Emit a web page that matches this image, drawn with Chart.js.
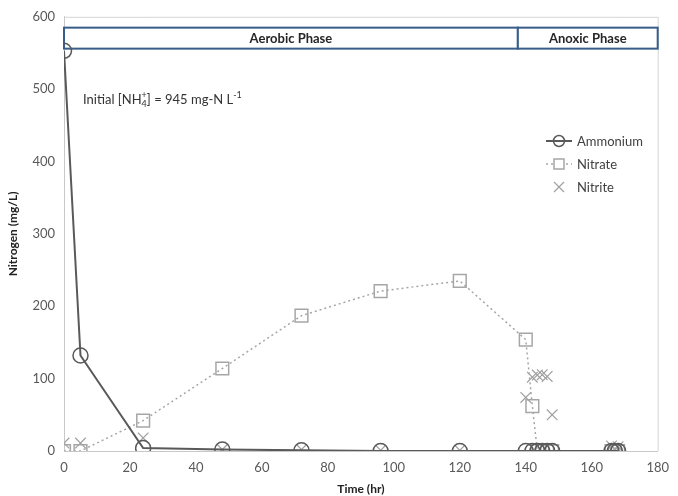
<!DOCTYPE html>
<html>
<head>
<meta charset="utf-8">
<script src="https://cdn.jsdelivr.net/npm/chart.js@4"></script>
<style>
  html, body { margin: 0; padding: 0; background: #fff; }
  #wrap { width: 678px; height: 496px; }
</style>
</head>
<body>
<div id="wrap"><canvas id="nChart" width="678" height="496"></canvas></div>
<script>
// sampling times (hr) and measured nitrogen species (mg-N/L)
const timeHr   = [0, 5, 24, 48, 72, 96, 120, 140, 142, 143.5, 145, 146.5, 148, 166, 167, 168];
const ammonium = [553, 132, 4, 2, 1, 0, 0, 0, 0, 0, 0, 0, 0, 0, 0, 0];
const nitrate  = [0, 0, 42, 114, 187, 221, 235, 154, 62, 0, 0, 0, 0, 0, 0, 0];
const nitrite  = [11, 11, 18, 2, 2, 1, 1, 74, 102, 105, 105.5, 103, 50, 7, 3, 6];

const xTicks = { min: 0, max: 180, step: 20 };
const yTicks = { min: 0, max: 600, step: 100 };

// phase bands drawn across the top of the plot
const phaseNames  = ["Aerobic Phase", "Anoxic Phase"];
const phaseBounds = [0, 137.6, 180];
const phaseYRange = [556, 585];

const FONT = 'Lato, "Open Sans", sans-serif';
const INK  = "#595959";

const toPoints = ys => timeHr.map((t, i) => ({ x: t, y: ys[i] }));

// ── phase banner, frame, note and legend ──────────────────
const decorations = {
  id: "decorations",
  beforeDatasetsDraw(chart) {
    const { ctx, chartArea: a, scales: { x, y } } = chart;
    ctx.save();
    ctx.strokeStyle = "#D4D4D4";
    ctx.lineWidth = 1;
    ctx.beginPath();
    ctx.moveTo(a.left, a.top + 0.5);
    ctx.lineTo(a.right + 0.5, a.top + 0.5);
    ctx.lineTo(a.right + 0.5, a.bottom);
    ctx.stroke();

    const top = y.getPixelForValue(phaseYRange[1]);
    const bot = y.getPixelForValue(phaseYRange[0]);
    ctx.lineWidth = 2;
    ctx.strokeStyle = "#385D8A";
    ctx.font = "bold 13px " + FONT;
    ctx.textAlign = "center";
    ctx.textBaseline = "middle";
    phaseNames.forEach((name, i) => {
      const l = x.getPixelForValue(phaseBounds[i]);
      const r = x.getPixelForValue(phaseBounds[i + 1]);
      ctx.fillStyle = "#fff";
      ctx.fillRect(l, top, r - l, bot - top);
      ctx.strokeRect(l, top, r - l, bot - top);
      ctx.fillStyle = "#262626";
      ctx.fillText(name, (l + r) / 2, (top + bot) / 2 + 1);
    });

    // initial ammonium note with sub/superscripts
    let cx = 83;
    const cy = 100;
    ctx.textAlign = "left";
    ctx.fillStyle = "#333";
    const put = (txt, size, dy) => {
      ctx.font = size + "px " + FONT;
      ctx.fillText(txt, cx, cy + dy);
      cx += ctx.measureText(txt).width;
    };
    put("Initial [NH", 13, 0);
    const subX = cx;
    put("4", 9, 4);
    cx = subX;
    put("+", 9, -5);
    put("] = 945 mg-N L", 13, 0);
    put("-1", 9, -5);
    ctx.restore();
  },
  afterDraw(chart) {
    const { ctx } = chart;
    const rows = [
      { label: "Ammonium", y: 141 },
      { label: "Nitrate",  y: 164 },
      { label: "Nitrite",  y: 187 },
    ];
    ctx.save();
    rows.forEach((row, i) => {
      const ds = chart.data.datasets[i];
      ctx.strokeStyle = ds.borderColor;
      ctx.lineWidth = ds.borderWidth;
      if (ds.showLine !== false) {
        ctx.setLineDash(ds.borderDash || []);
        ctx.beginPath();
        ctx.moveTo(546, row.y);
        ctx.lineTo(572, row.y);
        ctx.stroke();
      }
      ctx.setLineDash([]);
      ctx.lineWidth = ds.pointBorderWidth;
      ctx.strokeStyle = ds.pointBorderColor;
      ctx.beginPath();
      if (ds.pointStyle === "circle") {
        ctx.arc(559, row.y, 5.5, 0, Math.PI * 2);
      } else if (ds.pointStyle === "rect") {
        ctx.fillStyle = "#fff";
        ctx.fillRect(554, row.y - 5, 10, 10);
        ctx.rect(554, row.y - 5, 10, 10);
      } else {
        ctx.moveTo(554, row.y - 5); ctx.lineTo(564, row.y + 5);
        ctx.moveTo(564, row.y - 5); ctx.lineTo(554, row.y + 5);
      }
      ctx.stroke();
      ctx.fillStyle = "#404040";
      ctx.font = "13px " + FONT;
      ctx.textAlign = "left";
      ctx.textBaseline = "middle";
      ctx.fillText(row.label, 577, row.y + 1);
    });
    ctx.restore();
  },
};

new Chart(document.getElementById("nChart"), {
  type: "scatter",
  data: {
    datasets: [
      {
        label: "Ammonium",
        data: toPoints(ammonium),
        showLine: true,
        borderColor: "#595959",
        borderWidth: 2,
        pointStyle: "circle",
        pointRadius: 7.5,
        pointBorderWidth: 1.5,
        pointBorderColor: "#595959",
        pointBackgroundColor: "rgba(0,0,0,0)",
      },
      {
        label: "Nitrate",
        data: toPoints(nitrate),
        showLine: true,
        borderColor: "#A6A6A6",
        borderWidth: 1.5,
        borderDash: [2, 3],
        pointStyle: "rect",
        pointRadius: 9,
        pointBorderWidth: 1.5,
        pointBorderColor: "#A6A6A6",
        pointBackgroundColor: "rgba(0,0,0,0)",
      },
      {
        label: "Nitrite",
        data: toPoints(nitrite),
        showLine: false,
        borderColor: "#A6A6A6",
        borderWidth: 1,
        pointStyle: "crossRot",
        pointRadius: 7.5,
        pointBorderWidth: 1.2,
        pointBorderColor: "#A0A0A0",
      },
    ],
  },
  options: {
    responsive: false,
    animation: false,
    devicePixelRatio: 1,
    layout: { padding: { top: 15, right: 11, left: 0, bottom: 0 } },
    plugins: { legend: { display: false }, tooltip: { enabled: false } },
    scales: {
      x: {
        type: "linear",
        min: xTicks.min,
        max: xTicks.max,
        grid: { display: false, drawTicks: false },
        border: { display: true, color: "#C8C8C8" },
        ticks: { stepSize: xTicks.step, padding: 9, color: INK, font: { family: FONT, size: 13 } },
        title: { display: true, text: "Time (hr)", color: "#222", padding: { top: 0, bottom: 0 },
                 font: { family: FONT, size: 12, weight: "bold" } },
        afterFit: s => { s.height = 45; },
      },
      y: {
        type: "linear",
        min: yTicks.min,
        max: yTicks.max,
        grid: { display: false, drawTicks: false },
        border: { display: true, color: "#C8C8C8" },
        ticks: { stepSize: yTicks.step, padding: 9, color: INK, font: { family: FONT, size: 13 } },
        title: { display: true, text: "Nitrogen (mg/L)", color: "#222", padding: { top: 6, bottom: 0 },
                 font: { family: FONT, size: 12, weight: "bold" } },
        afterFit: s => { s.width = 64; },
      },
    },
  },
  plugins: [decorations],
});
</script>
</body>
</html>
